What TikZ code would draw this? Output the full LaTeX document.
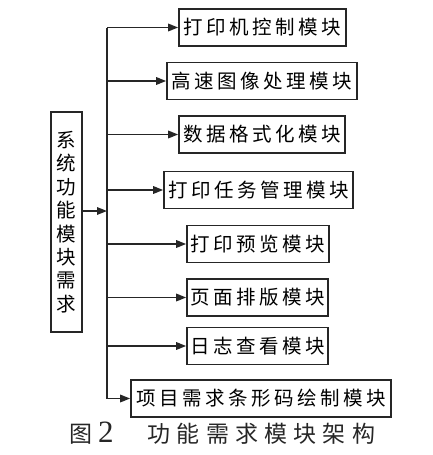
\documentclass[tikz,border=0pt]{standalone}
\usepackage{fontspec}
\usetikzlibrary{arrows.meta}
\newfontfamily\cjk{Noto Sans CJK SC}[LetterSpace=18]
\newfontfamily\cjkcap{Noto Sans CJK SC}[LetterSpace=27]
\newfontfamily\capnum{Liberation Serif}
\tikzset{
  modbox/.style={draw=black!85, line width=1.6pt, rectangle, inner sep=0pt,
     minimum height=37pt, font=\cjk\fontsize{19.5pt}{23.4pt}\selectfont},
  arr/.style={draw=black!85, line width=1.6pt, -{Triangle[length=10pt,width=7.5pt]}},
  ln/.style={draw=black!85, line width=1.6pt}
}
\begin{document}
\begin{tikzpicture}[x=1pt,y=-1pt]
\useasboundingbox (0,0) rectangle (433,455);
\node[modbox, minimum width=167pt] (b1) at (262.5,27.5) {打印机控制模块};
\node[modbox, minimum width=190pt] (b2) at (262,81) {高速图像处理模块};
\node[modbox, minimum width=166pt] (b3) at (262,134.5) {数据格式化模块};
\node[modbox, minimum width=189pt] (b4) at (258.5,190) {打印任务管理模块};
\node[modbox, minimum width=142pt] (b5) at (258,244) {打印预览模块};
\node[modbox, minimum width=141pt] (b6) at (257.5,297.5) {页面排版模块};
\node[modbox, minimum width=141pt] (b7) at (257.5,346) {日志查看模块};
\node[modbox, minimum width=260pt] (b8) at (261,398.5) {项目需求条形码绘制模块};
\node[modbox, minimum width=31pt, minimum height=220pt, align=center] (src) at (66.5,222)
  {系\\统\\功\\能\\模\\块\\需\\求};
\coordinate (trunk) at (107,0);
\coordinate (junc) at (107,211);
\draw[ln] (b1.west -| trunk) -- (b8.west -| trunk);
\draw[arr] (src.east |- junc) -- (junc);
\foreach \b in {b1,b2,b3,b4,b5,b6,b7,b8}
  \draw[arr] (\b.west -| trunk) -- (\b.west);
\node[anchor=base west, inner sep=0pt, font=\cjkcap\fontsize{23pt}{26pt}\selectfont, text=black!85] (cap) at (69,442)
  {图\hspace{6pt}{\capnum\fontsize{31pt}{26pt}\selectfont 2}\hspace{34pt}功能需求模块架构};
\end{tikzpicture}
\end{document}
